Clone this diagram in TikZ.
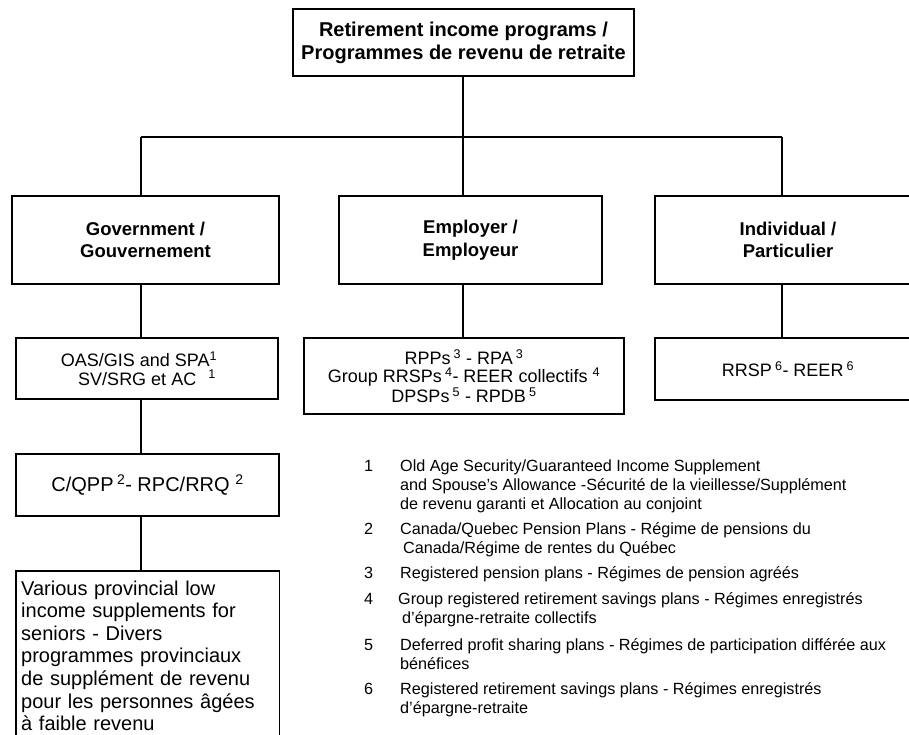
\documentclass[tikz,border=0pt]{standalone}
\usepackage{fontspec}
\setmainfont{Liberation Sans}
\newcommand{\fnstrut}{\rule{0pt}{14pt}}
\tikzset{
  box/.style={draw, line width=1.1pt, rectangle, inner sep=0pt, align=center},
  titlefont/.style={font=\fontsize{20}{23}\selectfont\bfseries},
  midfont/.style={font=\fontsize{18.5}{22.5}\selectfont\bfseries},
  subfont/.style={font=\fontsize{18}{18.5}\selectfont},
  fnnum/.style={inner sep=0pt, anchor=north west, font=\fontsize{16.2}{19}\selectfont},
  fntext/.style={inner sep=0pt, anchor=north west, align=left, font=\fontsize{16.2}{19}\selectfont},
  conn/.style={line width=1.1pt}
}
\begin{document}
\begin{tikzpicture}[x=1pt,y=-1pt]
\useasboundingbox (0,0) rectangle (909,735);
\clip (0,0) rectangle (909,735);
% top
\node[box, titlefont, minimum width=341, minimum height=67] (top) at (463.5,42.5)
  {Retirement income programs /\\Programmes de revenu de retraite};
% middle level
\node[box, midfont, minimum width=267, minimum height=88] (gov) at (145.5,240) {Government /\\Gouvernement};
\node[box, midfont, minimum width=263, minimum height=88] (emp) at (470.5,240) {Employer /\\Employeur};
\node[box, midfont, minimum width=266, minimum height=88] (ind) at (788,240) {Individual /\\Particulier};
% sub boxes
\node[box, subfont, minimum width=262, minimum height=61] (oas) at (147,368.5)
  {OAS/GIS and SPA\textsuperscript{1}\hspace*{16pt}\\SV/SRG et AC\hspace{12pt}\textsuperscript{1}};
\node[box, subfont, minimum width=320, minimum height=76] (empsub) at (464,376)
  {RPPs\,\textsuperscript{3} - RPA\,\textsuperscript{3}\\Group RRSPs\,\textsuperscript{4}- REER collectifs\ \textsuperscript{4}\\DPSPs\,\textsuperscript{5} - RPDB\,\textsuperscript{5}};
\node[box, font=\fontsize{18}{20}\selectfont, minimum width=266, minimum height=62] (indsub) at (788,369)
  {RRSP\,\textsuperscript{6}- REER\,\textsuperscript{6}};
\node[box, font=\fontsize{20}{22}\selectfont, minimum width=263, minimum height=62] (cqpp) at (147.5,485)
  {C/QPP\,\textsuperscript{2}- RPC/RRQ\ \textsuperscript{2}};
% bottom-left box (open at the bottom edge of the picture)
\node[anchor=north west, inner xsep=5pt, inner ysep=9.5pt, text width=253pt, align=left,
      font=\fontsize{20}{22.6}\selectfont] (prov) at (16,571)
  {Various provincial low\\income supplements for\\seniors - Divers\\programmes provinciaux\\de suppl\'ement de revenu\\pour les personnes \^ag\'ees\\\`a faible revenu};
\draw[conn] (prov.north west |- 0,750) -- (prov.north west) -- (prov.north east) -- (prov.north east |- 0,750);
% connectors
\coordinate (bus) at (463,137);
\coordinate (busL) at (141,137);
\coordinate (busR) at (782,137);
\draw[conn] (top.south -| bus) -- (bus);
\draw[conn] (busL) -- (busR);
\draw[conn] (busL) -- (busL |- gov.north);
\draw[conn] (bus) -- (bus |- emp.north);
\draw[conn] (busR) -- (busR |- ind.north);
\draw[conn] (gov.south -| busL) -- (oas.north -| busL);
\draw[conn] (oas.south -| busL) -- (cqpp.north -| busL);
\draw[conn] (cqpp.south -| busL) -- (prov.north -| busL);
\draw[conn] (emp.south -| bus) -- (empsub.north -| bus);
\draw[conn] (ind.south -| busR) -- (indsub.north -| busR);
% footnotes
\node[fnnum] (n1) at (364,457) {\fnstrut 1};
\node[fntext] (f1) at (400,457) {\fnstrut Old Age Security/Guaranteed Income Supplement\\and Spouse's Allowance -S\'ecurit\'e de la vieillesse/Suppl\'ement\\de revenu garanti et Allocation au conjoint};
\node[fnnum] (n2) at (364,520) {\fnstrut 2};
\node[fntext] (f2) at (400,520) {\fnstrut Canada/Quebec Pension Plans - R\'egime de pensions du\\\hspace*{3pt}Canada/R\'egime de rentes du Qu\'ebec};
\node[fnnum] (n3) at (364,564) {\fnstrut 3};
\node[fntext] (f3) at (400,564) {\fnstrut Registered pension plans - R\'egimes de pension agr\'e\'es};
\node[fnnum] (n4) at (364,590) {\fnstrut 4};
\node[fntext] (f4) at (398,590) {\fnstrut Group registered retirement savings plans - R\'egimes enregistr\'es\\\hspace*{4pt}d'\'epargne-retraite collectifs};
\node[fnnum] (n5) at (364,636) {\fnstrut 5};
\node[fntext] (f5) at (400,636) {\fnstrut Deferred profit sharing plans - R\'egimes de participation diff\'er\'ee aux\\b\'en\'efices};
\node[fnnum] (n6) at (364,680) {\fnstrut 6};
\node[fntext] (f6) at (400,680) {\fnstrut Registered retirement savings plans - R\'egimes enregistr\'es\\d'\'epargne-retraite};
\end{tikzpicture}
\end{document}
